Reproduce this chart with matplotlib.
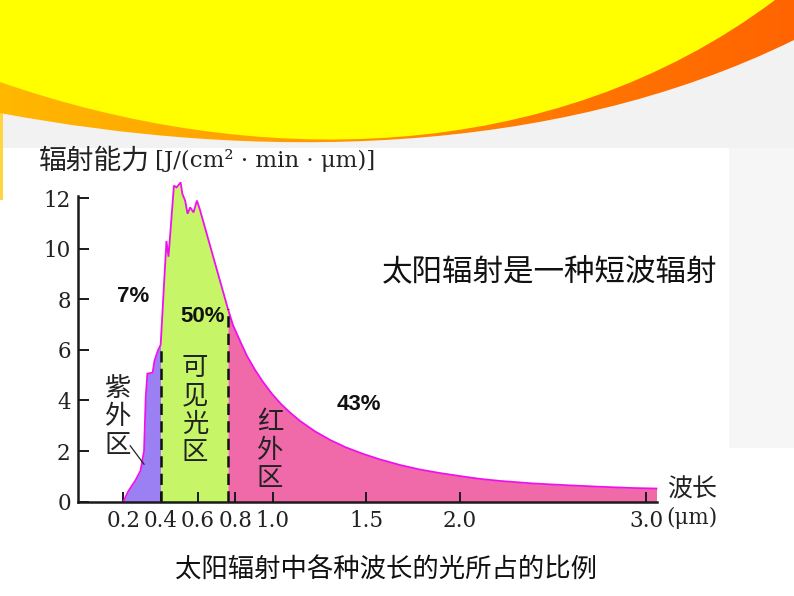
import numpy as np
import matplotlib
matplotlib.use("Agg")
import matplotlib.pyplot as plt
from matplotlib.path import Path
from matplotlib.patches import PathPatch, Rectangle
from matplotlib.colors import LinearSegmentedColormap

# ---------------- data ----------------
wavelength = [0.200, 0.228, 0.264, 0.292, 0.311, 0.320, 0.329, 0.357, 0.367, 0.385,
              0.400, 0.431, 0.442, 0.471, 0.485, 0.507, 0.516, 0.531, 0.544, 0.558,
              0.576, 0.594, 0.609, 0.760, 0.787, 0.825, 0.862, 0.905, 0.948, 0.996,
              1.044, 1.093, 1.146, 1.226, 1.307, 1.387, 1.483, 1.574, 1.681, 1.788,
              1.896, 2.003, 2.110, 2.217, 2.393, 2.575, 2.752, 2.929, 3.054]
energy = [0.0, 0.43, 0.83, 1.22, 2.0, 4.1, 5.06, 5.1, 5.57, 5.97,
          6.2, 10.3, 9.68, 12.49, 12.42, 12.62, 12.17, 11.9, 11.38, 11.63,
          11.43, 11.9, 11.57, 7.62, 6.98, 6.35, 5.76, 5.21, 4.73, 4.26,
          3.86, 3.52, 3.19, 2.78, 2.44, 2.16, 1.89, 1.67, 1.45, 1.27,
          1.13, 1.01, 0.90, 0.82, 0.72, 0.65, 0.59, 0.54, 0.52]
uv_edge = 0.40
ir_edge = 0.76
x_ticks = [0.2, 0.4, 0.6, 0.8, 1.0, 1.5, 2.0, 3.0]
x_ticklabels = ["0.2", "0.4", "0.6", "0.8", "1.0", "1.5", "2.0", "3.0"]
y_ticks = [0, 2, 4, 6, 8, 10, 12]
y_ticklabels = ["0", "2", "4", "6", "8", "10", "12"]
shares = ["7%", "50%", "43%"]
regions = ["紫\n外\n区", "可\n见\n光\n区", "红\n外\n区"]
y_title_cn = "辐射能力"
y_title_unit = "[J/(cm² · min · μm)]"
x_title = "波长"
x_unit = "(μm)"
headline = "太阳辐射是一种短波辐射"
caption = "太阳辐射中各种波长的光所占的比例"

wl = np.array(wavelength)
en = np.array(energy)

W, H = 794, 596
fig = plt.figure(figsize=(W / 100, H / 100), dpi=100)
fig.patch.set_facecolor("white")

# ---------------- slide background ----------------
bg = fig.add_axes([0, 0, 1, 1], zorder=-5)
bg.axis("off")
bg.add_patch(Rectangle((0, 0), W, 148, color="#f2f2f2", lw=0, zorder=0))
bg.add_patch(Rectangle((729, 148), W - 729, 300, color="#f6f6f6", lw=0, zorder=0))
bg.add_patch(Rectangle((0, 110), 3, 90, color="#ffd640", lw=0, zorder=0))

orange_path = Path([(0, 0), (W, 0), (W, 40), (550, 160), (250, 160), (0, 113), (0, 0)],
                   [Path.MOVETO, Path.LINETO, Path.LINETO, Path.CURVE4, Path.CURVE4,
                    Path.CURVE4, Path.CLOSEPOLY])
orange_patch = PathPatch(orange_path, facecolor="none", edgecolor="none")
bg.add_patch(orange_patch)
cmap = LinearSegmentedColormap.from_list("org", ["#ffb800", "#ffa000", "#ff7a00", "#ff6400"])
grad = np.linspace(0, 1, 256).reshape(1, -1)
im = bg.imshow(grad, cmap=cmap, extent=(0, W, 170, 0), aspect="auto", zorder=1)
im.set_clip_path(orange_patch)

yellow_path = Path([(0, 0), (775, 0), (550, 169), (250, 169), (0, 82), (0, 0)],
                   [Path.MOVETO, Path.LINETO, Path.CURVE4, Path.CURVE4, Path.CURVE4,
                    Path.CLOSEPOLY])
bg.add_patch(PathPatch(yellow_path, facecolor="#ffff00", edgecolor="none", zorder=2))
bg.set_xlim(0, W)
bg.set_ylim(H, 0)

# ---------------- chart ----------------
x0, x1, y0, y1 = 77.7, 656.7, 501.7, 196.0
ax = fig.add_axes([x0 / W, (H - y0) / H, (x1 - x0) / W, (y0 - y1) / H])
ax.patch.set_alpha(0)
ax.set_xlim(-0.044, 3.055)
ax.set_ylim(0, 12.08)

m_uv = wl <= uv_edge
m_vis = (wl >= uv_edge) & (wl <= ir_edge)
m_ir = wl >= ir_edge
ax.fill_between(wl[m_uv], 0, en[m_uv], color="#9a80f2", lw=0, zorder=1, clip_on=False)
ax.fill_between(wl[m_vis], 0, en[m_vis], color="#c6f567", lw=0, zorder=1, clip_on=False)
ax.fill_between(wl[m_ir], 0, en[m_ir], color="#f06aaa", lw=0, zorder=1, clip_on=False)
ax.plot(wl, en, color="#ee11ee", lw=1.3, zorder=3, clip_on=False, solid_joinstyle="miter")

for xe in (uv_edge, ir_edge):
    ax.plot([xe, xe], [0, np.interp(xe, wl, en)], color="#111111", lw=1.8,
            dashes=(4.5, 2.5), zorder=4)

# leader line of the UV label
ax.plot([0.237, 0.311], [2.21, 1.48], color="#222222", lw=0.9, zorder=4)

for s in ("top", "right"):
    ax.spines[s].set_visible(False)
for s in ("left", "bottom"):
    ax.spines[s].set_linewidth(1.8)
    ax.spines[s].set_color("#1a1a1a")
    ax.spines[s].set_zorder(5)

ax.set_xticks(x_ticks)
ax.set_xticklabels(x_ticklabels)
ax.set_yticks(y_ticks)
ax.set_yticklabels(y_ticklabels)
ax.tick_params(axis="x", direction="in", length=7, width=1.4, pad=6, colors="#1a1a1a",
               labelsize=15.5)
ax.tick_params(axis="y", direction="in", length=8, width=1.4, pad=5, colors="#1a1a1a",
               labelsize=15.5)
for lab in ax.get_xticklabels() + ax.get_yticklabels():
    lab.set_fontfamily("DejaVu Serif")
    lab.set_color("#222222")

# ---------------- texts (pixel coords) ----------------
tx = fig.add_axes([0, 0, 1, 1], zorder=10)
tx.set_xlim(0, W)
tx.set_ylim(H, 0)
tx.axis("off")
tx.patch.set_alpha(0)

cjk = ["Noto Sans CJK SC", "DejaVu Sans"]

tx.text(39, 161, y_title_cn, fontsize=20, family=cjk, color="#222222",
        ha="left", va="center")
tx.text(155, 161, y_title_unit, fontsize=16.5, family="DejaVu Serif", color="#222222",
        ha="left", va="center")
tx.text(667, 490, x_title, fontsize=18, family=cjk, color="#222222",
        ha="left", va="center")
tx.text(666, 518, x_unit, fontsize=15.5, family="DejaVu Serif", color="#222222",
        ha="left", va="center")
tx.text(550, 272, headline, fontsize=22, family=cjk, color="#111111",
        ha="center", va="center")
tx.text(386, 570, caption, fontsize=19, family=cjk, color="#111111",
        ha="center", va="center", fontweight="light")

tx.text(133, 297, shares[0], fontsize=16, family="Liberation Sans", fontweight="bold",
        ha="center", va="center", color="#111111")
tx.text(203, 316, shares[1], fontsize=16, family="Liberation Sans", fontweight="bold",
        ha="center", va="center", color="#111111")
tx.text(359, 405, shares[2], fontsize=16, family="Liberation Sans", fontweight="bold",
        ha="center", va="center", color="#111111")

tx.text(118, 417, regions[0], fontsize=19, family=cjk, color="#222222",
        ha="center", va="center", linespacing=1.05)
tx.text(195, 410, regions[1], fontsize=19, family=cjk, color="#222222",
        ha="center", va="center", linespacing=1.05)
tx.text(270, 450, regions[2], fontsize=19, family=cjk, color="#222222",
        ha="center", va="center", linespacing=1.05)

fig.savefig("out.png", dpi=100, facecolor=fig.get_facecolor())
